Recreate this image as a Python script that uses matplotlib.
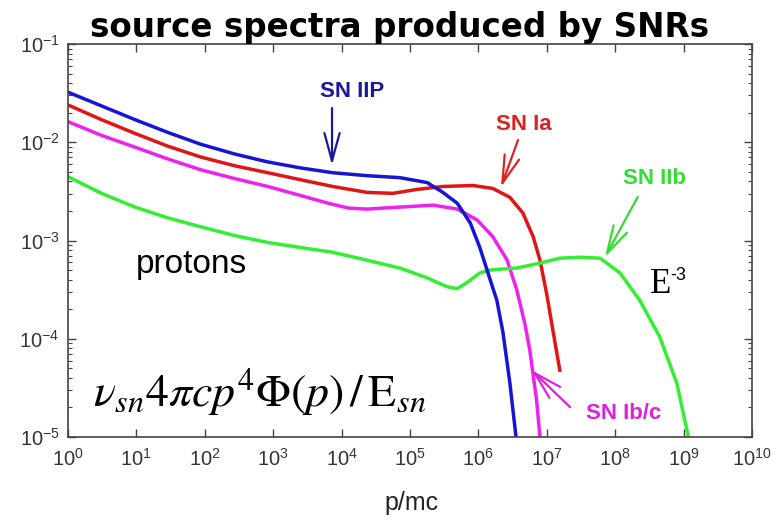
import matplotlib
matplotlib.use("Agg")
import numpy as np
from matplotlib import pyplot as plt
from matplotlib.ticker import FuncFormatter

plt.rcParams['font.family'] = ['Liberation Sans', 'DejaVu Sans']
plt.rcParams['mathtext.fontset'] = 'stix'

# values, as log10(p/mc) and log10(flux)
iip_lp = [0, 0.49, 0.98, 1.46, 1.94, 2.44, 2.92, 3.39, 3.87, 4.37, 4.85, 5.25, 5.48, 5.69, 5.88, 6.02, 6.14, 6.27, 6.36, 6.46, 6.55]
iip_lf = [-1.49, -1.63, -1.77, -1.90, -2.02, -2.12, -2.20, -2.26, -2.31, -2.34, -2.36, -2.41, -2.51, -2.62, -2.82, -3.07, -3.33, -3.61, -3.94, -4.45, -5.0]

ia_lp = [0, 0.49, 0.98, 1.46, 1.94, 2.44, 2.92, 3.39, 3.87, 4.37, 4.75, 5.10, 5.48, 5.92, 6.21, 6.46, 6.65, 6.80, 6.90, 7.0, 7.12, 7.19]
ia_lf = [-1.62, -1.77, -1.91, -2.04, -2.15, -2.24, -2.31, -2.38, -2.45, -2.51, -2.52, -2.48, -2.45, -2.44, -2.47, -2.56, -2.72, -2.96, -3.20, -3.55, -4.04, -4.32]

ibc_lp = [0, 0.49, 0.98, 1.46, 1.94, 2.44, 2.92, 3.39, 3.80, 4.10, 4.37, 4.85, 5.34, 5.69, 5.98, 6.21, 6.42, 6.56, 6.68, 6.75, 6.85, 6.90]
ibc_lf = [-1.79, -1.93, -2.05, -2.17, -2.28, -2.37, -2.45, -2.54, -2.62, -2.67, -2.68, -2.66, -2.64, -2.68, -2.79, -2.96, -3.20, -3.50, -3.85, -4.11, -4.62, -5.0]

iib_lp = [0, 0.49, 0.98, 1.46, 1.94, 2.44, 2.92, 3.39, 3.87, 4.37, 4.85, 5.25, 5.54, 5.69, 5.83, 6.02, 6.17, 6.56, 6.90, 7.19, 7.49, 7.78, 8.07, 8.36, 8.65, 8.90, 9.07]
iib_lf = [-2.35, -2.52, -2.66, -2.77, -2.86, -2.95, -3.02, -3.07, -3.12, -3.20, -3.28, -3.38, -3.47, -3.49, -3.43, -3.33, -3.30, -3.28, -3.23, -3.18, -3.17, -3.18, -3.33, -3.61, -3.98, -4.45, -5.0]

fig = plt.figure(figsize=(7.78, 5.21), dpi=100)
ax = fig.add_axes([0.0874, 0.1612, 0.8792, 0.7543])

def curve(lp, lf, col):
    ax.plot(10 ** np.array(lp), 10 ** np.array(lf), color=col, lw=2.5, solid_joinstyle='round')

curve(ia_lp, ia_lf, '#e01515')
curve(ibc_lp, ibc_lf, '#ee22ee')
curve(iib_lp, iib_lf, '#33ee33')
curve(iip_lp, iip_lf, '#1515d5')

ax.set_xscale('log')
ax.set_yscale('log')
ax.set_xlim(1, 1e10)
ax.set_ylim(1e-5, 1e-1)
ax.set_xticks([10.0 ** k for k in range(11)])
fmt = FuncFormatter(lambda v, pos: r'$\mathregular{10^{%d}}$' % round(np.log10(v)))
ax.xaxis.set_major_formatter(fmt)
ax.yaxis.set_major_formatter(fmt)
ax.tick_params(which='both', direction='in', top=True, right=True, colors='#444444',
               labelcolor='#333333', labelsize=14.5)
ax.tick_params(which='major', length=6, width=1)
ax.tick_params(which='minor', length=3, width=0.8)
ax.tick_params(axis='x', pad=8)
ax.tick_params(axis='y', pad=6)
for s in ax.spines.values():
    s.set_color('#444444')
    s.set_linewidth(1.2)

# labels with arrows
def label(txt, xyt, tail, tip, col):
    ax.text(xyt[0], xyt[1], txt, transform=ax.transAxes, color=col, fontsize=16,
            fontweight='bold', ha='center', va='center')
    ax.annotate('', xy=tip, xytext=tail, xycoords='axes fraction', textcoords='axes fraction',
                arrowprops=dict(arrowstyle='->,head_length=0.8,head_width=0.22', color=col,
                                lw=1.6, mutation_scale=25, shrinkA=0, shrinkB=0))

label('SN IIP', (0.415, 0.878), (0.386, 0.837), (0.386, 0.692), '#1a1a99')
label('SN Ia', (0.667, 0.796), (0.658, 0.756), (0.633, 0.636), '#dd2222')
label('SN IIb', (0.858, 0.659), (0.833, 0.611), (0.785, 0.458), '#33dd33')
label('SN Ib/c', (0.813, 0.059), (0.734, 0.076), (0.678, 0.170), '#dd22dd')

ax.text(0.181, 0.438, 'protons', transform=ax.transAxes, fontsize=24, ha='center', va='center')
ax.text(0.851, 0.366, 'E', transform=ax.transAxes, fontsize=25,
        family='Liberation Serif', ha='left', va='baseline')
ax.text(0.880, 0.400, '-3', transform=ax.transAxes, fontsize=13, ha='left', va='baseline')
ax.text(0.0365, 0.076, r'$\nu_{sn}4\pi cp^4\Phi(p)\,/\,\mathrm{E}_{sn}$', transform=ax.transAxes,
        fontsize=33, ha='left', va='baseline')

fig.text(400 / 778, 1 - 27 / 521, 'source spectra produced by SNRs', fontsize=23.5,
         fontweight='bold', family='DejaVu Sans', ha='center', va='center')
fig.text(412 / 778, 1 - 503 / 521, 'p/mc', fontsize=18, color='#222222', ha='center', va='center')

fig.savefig('out.png', dpi=100)
